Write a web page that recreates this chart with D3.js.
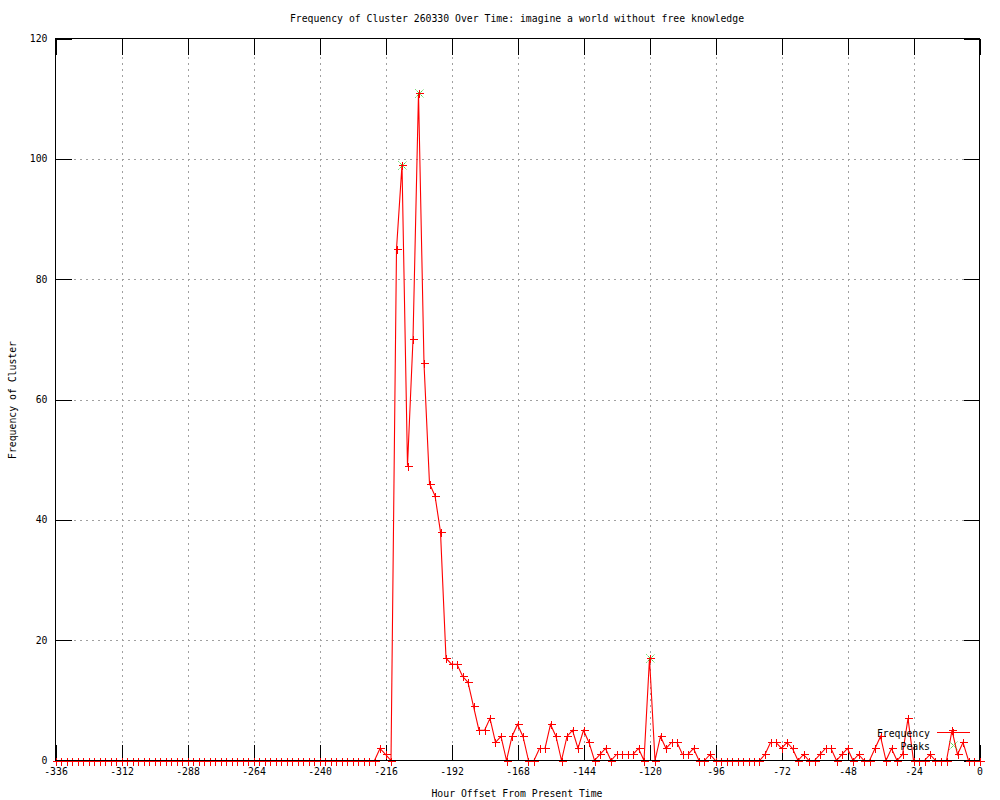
<!DOCTYPE html>
<html>
<head>
<meta charset="utf-8">
<script src="https://cdn.jsdelivr.net/npm/d3@7"></script>
<style>
  html, body { margin: 0; padding: 0; background: #fff; }
  svg { display: block; }
  .lbl { font-family: "DejaVu Sans Mono", "Liberation Mono", monospace; font-size: 9.8px; fill: #000; }
</style>
</head>
<body>
<svg id="chart" width="1000" height="800"></svg>
<script>
// hourly offsets: one sample every 2 hours, -336 .. 0
const startHour = -336;
const stepHours = 2;
const frequency = [
  0, 0, 0, 0, 0, 0, 0, 0, 0, 0,          // -336 .. -318
  0, 0, 0, 0, 0, 0, 0, 0, 0, 0,          // -316 .. -298
  0, 0, 0, 0, 0, 0, 0, 0, 0, 0,          // -296 .. -278
  0, 0, 0, 0, 0, 0, 0, 0, 0, 0,          // -276 .. -258
  0, 0, 0, 0, 0, 0, 0, 0, 0, 0,          // -256 .. -238
  0, 0, 0, 0, 0, 0, 0, 0, 0,             // -236 .. -220
  2, 1, 0, 85, 99, 49, 70, 111, 66, 46,  // -218 .. -200
  44, 38, 17, 16, 16, 14, 13, 9, 5, 5,   // -198 .. -180
  7, 3, 4, 0, 4, 6, 4, 0, 0, 2,          // -178 .. -160
  2, 6, 4, 0, 4, 5, 2, 5, 3, 0,          // -158 .. -140
  1, 2, 0, 1, 1, 1, 1, 2, 0, 17,         // -138 .. -120
  0, 4, 2, 3, 3, 1, 1, 2, 0, 0,          // -118 .. -100
  1, 0, 0, 0, 0, 0, 0, 0, 0, 0,          // -98 .. -80
  1, 3, 3, 2, 3, 2, 0, 1, 0, 0,          // -78 .. -60
  1, 2, 2, 0, 1, 2, 0, 1, 0, 0,          // -58 .. -40
  2, 4, 0, 2, 0, 1, 7, 0, 0, 0,          // -38 .. -20
  1, 0, 0, 0, 5, 1, 3, 0, 0, 0           // -18 .. 0
];
const peakHours = [-210, -204, -120];
const peakValues = [99, 111, 17];
const xTicks = [-336, -312, -288, -264, -240, -216, -192, -168, -144, -120, -96, -72, -48, -24, 0];
const yTicks = [0, 20, 40, 60, 80, 100, 120];

const titleText = "Frequency of Cluster 260330 Over Time: imagine a world without free knowledge";
const xLabel = "Hour Offset From Present Time";
const yLabel = "Frequency of Cluster";

const svg = d3.select("#chart");
const plotLeft = 55.5, plotRight = 979.5, plotTop = 38.5, plotBottom = 760.5;
const x = d3.scaleLinear().domain([-336, 0]).range([plotLeft, plotRight]);
const y = d3.scaleLinear().domain([0, 120]).range([plotBottom, plotTop]);

const rows = frequency.map((v, i) => ({ hour: startHour + i * stepHours, value: v }));
const peaks = peakHours.map((h, i) => ({ hour: h, value: peakValues[i] }));

svg.append("rect").attr("width", 1000).attr("height", 800).attr("fill", "#fff");

// grid
const grid = svg.append("g")
  .attr("stroke", "#a0a0a0")
  .attr("stroke-width", 1)
  .attr("stroke-dasharray", "2,4")
  .attr("shape-rendering", "crispEdges");
grid.selectAll(".gx").data(xTicks.slice(1, -1)).join("line")
  .attr("x1", (d) => Math.round(x(d)) + 0.5).attr("x2", (d) => Math.round(x(d)) + 0.5)
  .attr("y1", plotTop).attr("y2", plotBottom);
grid.selectAll(".gy").data(yTicks.slice(1, -1)).join("line")
  .attr("y1", (d) => Math.round(y(d)) + 0.5).attr("y2", (d) => Math.round(y(d)) + 0.5)
  .attr("x1", plotLeft).attr("x2", plotRight);

// axes (gnuplot style: inward ticks, mirrored)
const fmt = (d) => String(d);
const styleAxis = (g) => {
  g.select(".domain").remove();
  g.selectAll(".tick line").attr("stroke", "#000").attr("shape-rendering", "crispEdges");
  g.selectAll(".tick text").attr("class", "lbl").attr("fill", "#000");
};
svg.append("g").attr("transform", `translate(0,${plotBottom})`)
  .call(d3.axisBottom(x).tickValues(xTicks).tickFormat(fmt).tickSizeInner(-16).tickSizeOuter(0).tickPadding(8))
  .call(styleAxis);
svg.append("g").attr("transform", `translate(0,${plotTop})`)
  .call(d3.axisTop(x).tickValues(xTicks).tickFormat("").tickSizeInner(-16).tickSizeOuter(0))
  .call(styleAxis);
svg.append("g").attr("transform", `translate(${plotLeft},0)`)
  .call(d3.axisLeft(y).tickValues(yTicks).tickFormat(fmt).tickSizeInner(-16).tickSizeOuter(0).tickPadding(8))
  .call(styleAxis);
svg.append("g").attr("transform", `translate(${plotRight},0)`)
  .call(d3.axisRight(y).tickValues(yTicks).tickFormat("").tickSizeInner(-16).tickSizeOuter(0))
  .call(styleAxis);

// data line
const line = d3.line().x((d) => x(d.hour)).y((d) => y(d.value));
svg.append("path").datum(rows)
  .attr("d", line)
  .attr("fill", "none")
  .attr("stroke", "#ff0000")
  .attr("stroke-width", 1.1);

const plusPath = (cx, cy, r) => `M${cx - r},${cy}H${cx + r}M${cx},${cy - r}V${cy + r}`;
const crossPath = (cx, cy, r) => `M${cx - r},${cy - r}L${cx + r},${cy + r}M${cx - r},${cy + r}L${cx + r},${cy - r}`;

svg.append("g").selectAll("path").data(peaks).join("path")
  .attr("d", (d) => crossPath(Math.round(x(d.hour)) + 0.5, Math.round(y(d.value)) + 0.5, 4))
  .attr("stroke", "#00c000").attr("stroke-width", 1)
  .attr("stroke-dasharray", "1,1");

svg.append("g").selectAll("path").data(rows).join("path")
  .attr("d", (d) => plusPath(Math.round(x(d.hour)) + 0.5, Math.round(y(d.value)) + 0.5, 4))
  .attr("stroke", "#ff0000").attr("stroke-width", 1)
  .attr("shape-rendering", "crispEdges");

// border
svg.append("rect")
  .attr("x", plotLeft).attr("y", plotTop)
  .attr("width", plotRight - plotLeft).attr("height", plotBottom - plotTop)
  .attr("fill", "none").attr("stroke", "#000").attr("stroke-width", 1)
  .attr("shape-rendering", "crispEdges");

// legend
const legend = svg.append("g");
legend.append("text").attr("class", "lbl").attr("x", 930).attr("y", 736.5)
  .attr("text-anchor", "end").text("Frequency");
legend.append("path").attr("d", "M937,732.5H970").attr("stroke", "#ff0000").attr("stroke-width", 1);
legend.append("path").attr("d", plusPath(953.5, 732.5, 4)).attr("stroke", "#ff0000").attr("shape-rendering", "crispEdges");
legend.append("text").attr("class", "lbl").attr("x", 930).attr("y", 749.5)
  .attr("text-anchor", "end").text("Peaks");
legend.append("path").attr("d", crossPath(953.5, 745.5, 4)).attr("stroke", "#00c000")
  .attr("stroke-dasharray", "1,1");

// titles
svg.append("text").attr("class", "lbl").attr("x", 517).attr("y", 22)
  .attr("text-anchor", "middle").text(titleText);
svg.append("text").attr("class", "lbl").attr("x", 517).attr("y", 797)
  .attr("text-anchor", "middle").text(xLabel);
svg.append("text").attr("class", "lbl")
  .attr("transform", "translate(16,400) rotate(-90)")
  .attr("text-anchor", "middle").text(yLabel);
</script>
</body>
</html>
